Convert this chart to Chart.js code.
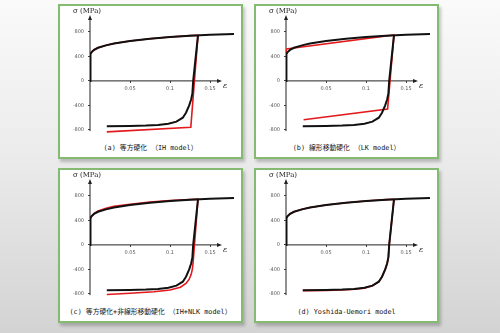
<!DOCTYPE html>
<html>
<head>
<meta charset="utf-8">
<script src="https://cdn.jsdelivr.net/npm/chart.js@4.4.1/dist/chart.umd.min.js"></script>
<style>
  html, body { margin: 0; padding: 0; }
  body {
    width: 500px; height: 333px; position: relative; overflow: hidden;
    background: linear-gradient(to bottom, #fafafa 0%, #ececec 45%, #d3d3d3 100%);
  }
  .panel {
    position: absolute; box-sizing: border-box; width: 185px; height: 155px;
    background: #fff; border: 2px solid #84bb72;
    box-shadow: 2px 3px 3px rgba(0, 0, 0, 0.22);
  }
  .panel canvas { position: absolute; left: 0; top: 0; }
  .caption {
    position: absolute; left: 0; right: 0; top: 136px; height: 12px; line-height: 12px;
    text-align: center; font-family: "DejaVu Sans Mono", "Noto Sans CJK JP", monospace;
    font-size: 6.8px; color: #111; white-space: nowrap;
  }
</style>
</head>
<body>
<div class="panel" style="left:58px; top:4px;">
  <canvas id="chartA" width="180" height="134"></canvas>
  <div class="caption">(a) 等方硬化 （IH model）</div>
</div>
<div class="panel" style="left:254px; top:4px;">
  <canvas id="chartB" width="180" height="134"></canvas>
  <div class="caption">(b) 線形移動硬化 （LK model）</div>
</div>
<div class="panel" style="left:58px; top:168px;">
  <canvas id="chartC" width="180" height="134"></canvas>
  <div class="caption">(c) 等方硬化+非線形移動硬化 （IH+NLK model）</div>
</div>
<div class="panel" style="left:254px; top:168px;">
  <canvas id="chartD" width="180" height="134"></canvas>
  <div class="caption">(d) Yoshida-Uemori model</div>
</div>
<script>
// ticks
const xTickValues = [0.05, 0.1, 0.15];
const yTickValues = [-800, -400, 0, 400, 800];

// black curve (reference), monotonic loading
const strainLoad = [0, 0.0005, 0.002, 0.005, 0.01, 0.02, 0.03, 0.05, 0.075, 0.1, 0.125, 0.15, 0.18];
const stressLoad = [0, 440, 470, 505, 540, 580, 610, 650, 688, 716, 738, 752, 765];
// black curve, reverse loading from the unload point
const strainRev = [0.135, 0.129, 0.128, 0.1265, 0.124, 0.12, 0.116, 0.108, 0.098, 0.085, 0.07, 0.05, 0.021];
const stressRev = [745, 0, -200, -300, -400, -520, -600, -665, -700, -718, -728, -734, -738];

// red curves (models)
const strainA = [0, 0.0005, 0.002, 0.005, 0.01, 0.02, 0.03, 0.05, 0.075, 0.1, 0.125, 0.135, 0.126, 0.021];
const stressA = [0, 440, 470, 505, 540, 580, 610, 650, 688, 716, 738, 745, -757, -832];

const strainB = [0, 0.0003, 0.135, 0.127, 0.022];
const stressB = [0, 520, 750, -459, -635];

const strainC = [0, 0.0005, 0.002, 0.005, 0.01, 0.02, 0.03, 0.05, 0.075, 0.1, 0.125, 0.135, 0.1288, 0.128, 0.1265, 0.124, 0.12, 0.113, 0.1, 0.08, 0.05, 0.021];
const stressC = [0, 425, 465, 510, 552, 598, 628, 664, 698, 722, 741, 746, -300, -390, -480, -560, -630, -690, -735, -765, -790, -808];

const strainD = [0, 0.0005, 0.0015, 0.005, 0.01, 0.02, 0.03, 0.05, 0.075, 0.1, 0.125, 0.135, 0.129, 0.128, 0.1265, 0.124, 0.12, 0.116, 0.108, 0.098, 0.085, 0.07, 0.05, 0.021];
const stressD = [0, 420, 465, 505, 540, 580, 610, 650, 688, 716, 738, 745, 0, -200, -300, -400, -520, -600, -668, -705, -724, -735, -742, -746];

function toPoints(xs, ys) {
  return xs.map((x, i) => ({ x: x, y: ys[i] }));
}

// axis lines with arrow heads + axis titles
const axisArrows = {
  id: 'axisArrows',
  beforeDatasetsDraw(chart) {
    const ctx = chart.ctx;
    const x = chart.scales.x, y = chart.scales.y;
    const x0 = x.getPixelForValue(0), y0 = y.getPixelForValue(0);
    const xEnd = x.getPixelForValue(0.165);
    const yTop = y.getPixelForValue(1075);
    const yBot = y.getPixelForValue(-820);
    ctx.save();
    ctx.strokeStyle = '#222';
    ctx.fillStyle = '#222';
    ctx.lineWidth = 1;
    ctx.beginPath();
    ctx.moveTo(x0, y0); ctx.lineTo(xEnd - 3, y0);
    ctx.moveTo(x0, yBot); ctx.lineTo(x0, yTop + 3);
    ctx.stroke();
    ctx.beginPath();
    ctx.moveTo(xEnd, y0); ctx.lineTo(xEnd - 5, y0 - 2); ctx.lineTo(xEnd - 5, y0 + 2); ctx.closePath();
    ctx.moveTo(x0, yTop); ctx.lineTo(x0 - 2, yTop + 5); ctx.lineTo(x0 + 2, yTop + 5); ctx.closePath();
    ctx.fill();
    ctx.font = '7px "DejaVu Serif", serif';
    ctx.textBaseline = 'middle';
    ctx.textAlign = 'center';
    ctx.fillText('σ (MPa)', x0 - 3, yTop - 4);
    ctx.textAlign = 'left';
    ctx.font = 'italic 8px "DejaVu Serif", serif';
    ctx.fillText('ε', xEnd + 1, y0 + 5);
    ctx.restore();
  }
};

function makeChart(id, redStrain, redStress) {
  new Chart(document.getElementById(id), {
    type: 'scatter',
    data: {
      datasets: [
        {
          data: toPoints(strainLoad, stressLoad),
          showLine: true, borderColor: '#111', borderWidth: 2, pointRadius: 0, order: 1
        },
        {
          data: toPoints(strainRev, stressRev),
          showLine: true, borderColor: '#111', borderWidth: 2, pointRadius: 0, order: 1
        },
        {
          data: toPoints(redStrain, redStress),
          showLine: true, borderColor: '#e3191c', borderWidth: 1.6, pointRadius: 0, order: 2
        }
      ]
    },
    options: {
      responsive: false,
      animation: false,
      devicePixelRatio: 1,
      layout: { padding: { left: 0, right: 6, top: 9, bottom: 5 } },
      plugins: { legend: { display: false }, tooltip: { enabled: false } },
      scales: {
        x: {
          type: 'linear', min: 0, max: 0.18, position: { y: 0 },
          afterBuildTicks: s => { s.ticks = xTickValues.map(v => ({ value: v })); },
          border: { display: false },
          grid: { drawOnChartArea: false, tickLength: 2, color: '#444' },
          ticks: { font: { size: 5, family: 'DejaVu Sans' }, color: '#555', padding: 3,
                   callback: v => String(v) }
        },
        y: {
          type: 'linear', min: -850, max: 1075, position: 'left',
          afterFit: s => { s.width = 30; },
          afterBuildTicks: s => { s.ticks = yTickValues.map(v => ({ value: v })); },
          border: { display: false },
          grid: { drawOnChartArea: false, tickLength: 2, color: '#444' },
          ticks: { font: { size: 5, family: 'DejaVu Sans' }, color: '#555', padding: 4,
                   callback: v => String(v) }
        }
      }
    },
    plugins: [axisArrows]
  });
}

makeChart('chartA', strainA, stressA);
makeChart('chartB', strainB, stressB);
makeChart('chartC', strainC, stressC);
makeChart('chartD', strainD, stressD);
</script>
</body>
</html>
